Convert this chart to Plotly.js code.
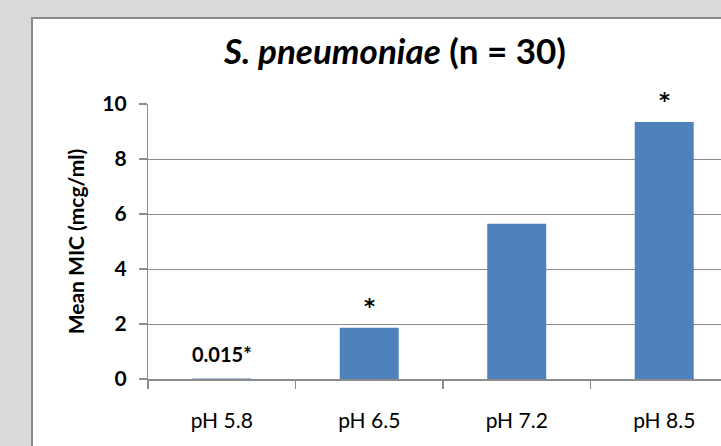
<!DOCTYPE html>
<html>
<head>
<meta charset="utf-8">
<script src="https://cdn.plot.ly/plotly-3.0.1.min.js"></script>
<style>
  html, body { margin: 0; padding: 0; background: #d9d9d9; width: 721px; height: 446px; overflow: hidden; }
  #panel { position: absolute; left: 31px; top: 17px; width: 720px; height: 460px; background: #ffffff; border-left: 2px solid #8a8a8a; border-top: 2px solid #8a8a8a; box-sizing: border-box; }
  #chart { position: absolute; left: 0; top: 0; width: 721px; height: 446px; }
</style>
</head>
<body>
<div id="panel"></div>
<div id="chart"></div>
<script>
const categories = ['pH 5.8', 'pH 6.5', 'pH 7.2', 'pH 8.5'];
const meanMIC = [0.015, 1.86, 5.65, 9.35];
const barLabels = ['0.015*', '*', '', '*'];
const yTicks = [0, 2, 4, 6, 8, 10];

const FONT = 'Lato, "Open Sans", sans-serif';
const STAR_FONT = '"DejaVu Sans", sans-serif';
const GRID = '#8c8c8c';

const annotations = [];
categories.forEach((c, i) => {
  const t = barLabels[i];
  if (!t) return;
  const isStar = t === '*';
  annotations.push({
    x: c, y: meanMIC[i], xref: 'x', yref: 'y',
    text: '<b>' + t + '</b>',
    showarrow: false,
    yanchor: 'bottom',
    yshift: isStar ? 7 : 11,
    font: { family: isStar ? STAR_FONT : FONT, size: isStar ? 21 : 20, color: '#000' }
  });
});

const data = [{
  type: 'bar',
  x: categories,
  y: meanMIC,
  marker: { color: '#4f81bd', line: { width: 0 } },
  hoverinfo: 'none'
}];

const layout = {
  width: 721, height: 446,
  paper_bgcolor: 'rgba(0,0,0,0)',
  plot_bgcolor: 'rgba(0,0,0,0)',
  margin: { l: 148, r: 0, t: 104, b: 67 },
  bargap: 0.6,
  showlegend: false,
  title: {
    text: '<b><i>S. pneumoniae</i> (n = 30)</b>',
    font: { family: FONT, size: 35, color: '#000' },
    xref: 'container', yref: 'container',
    x: 395 / 721, xanchor: 'center',
    y: 1 - 52 / 446, yanchor: 'middle'
  },
  xaxis: {
    type: 'category',
    range: [-0.5, 3.5 - 17 / 147.7],
    showgrid: false,
    showline: true, linecolor: GRID, linewidth: 1.5,
    ticks: 'outside', ticklen: 8, tickcolor: GRID, tickwidth: 1.2,
    tickson: 'boundaries',
    ticklabelstandoff: 22,
    tickfont: { family: FONT, size: 21, color: '#000' },
    fixedrange: true
  },
  yaxis: {
    range: [0, 10],
    tickvals: yTicks,
    ticktext: yTicks.map(v => '<b>' + v + '</b>'),
    showgrid: true, gridcolor: GRID, gridwidth: 1,
    zeroline: false,
    showline: true, linecolor: GRID, linewidth: 1.2,
    ticks: 'outside', ticklen: 8, tickcolor: GRID, tickwidth: 1.2,
    ticklabelstandoff: 8,
    tickfont: { family: FONT, size: 21, color: '#000' },
    title: {
      text: '<b>Mean MIC (mcg/ml)</b>',
      font: { family: FONT, size: 21, color: '#000' },
      standoff: 11
    },
    automargin: false,
    fixedrange: true
  },
  annotations: annotations
};

Plotly.newPlot('chart', data, layout, { displayModeBar: false, staticPlot: true });
</script>
</body>
</html>
